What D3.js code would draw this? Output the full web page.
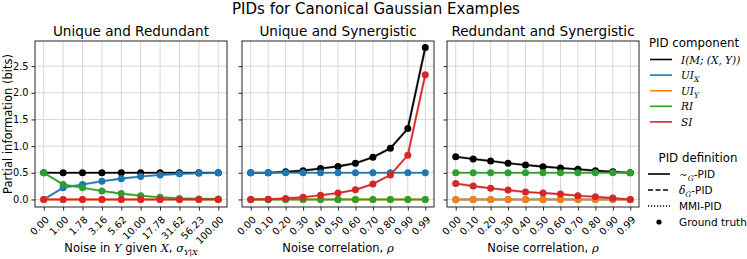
<!DOCTYPE html>
<html>
<head>
<meta charset="utf-8">
<script src="https://cdn.jsdelivr.net/npm/d3@7"></script>
<style>
    body { margin: 0; background: #fff; }
    text { font-family: "DejaVu Sans", sans-serif; fill: #000; }
    .math { font-family: "DejaVu Serif", serif; font-style: italic; }
</style>
</head>
<body>
<svg id="chart"></svg>
<script>
// Data
const noiseLabels = ["0.00", "1.00", "1.78", "3.16", "5.62", "10.00", "17.78", "31.62", "56.23", "100.00"];
const rhoLabels = ["0.00", "0.10", "0.20", "0.30", "0.40", "0.50", "0.60", "0.70", "0.80", "0.90", "0.99"];
const yTicks = [0.0, 0.5, 1.0, 1.5, 2.0, 2.5];

// Unique and Redundant
const urTotal = [0.50, 0.50, 0.50, 0.50, 0.50, 0.50, 0.50, 0.50, 0.50, 0.50];
const urUIX = [0.00, 0.22, 0.28, 0.34, 0.39, 0.43, 0.46, 0.48, 0.49, 0.50];
const urUIY = [0.00, 0.00, 0.00, 0.00, 0.00, 0.00, 0.00, 0.00, 0.00, 0.00];
const urRI = [0.50, 0.28, 0.22, 0.16, 0.11, 0.07, 0.04, 0.02, 0.01, 0.01];
const urSI = [0.00, 0.00, 0.00, 0.00, 0.00, 0.00, 0.00, 0.00, 0.00, 0.00];

// Unique and Synergistic
const usTotal = [0.50, 0.50, 0.52, 0.54, 0.58, 0.62, 0.68, 0.79, 0.96, 1.33, 2.85];
const usUIX = [0.50, 0.50, 0.50, 0.50, 0.50, 0.50, 0.50, 0.50, 0.50, 0.50, 0.50];
const usUIY = [0.00, 0.00, 0.00, 0.00, 0.00, 0.00, 0.00, 0.00, 0.00, 0.00, 0.00];
const usRI = [0.00, 0.00, 0.00, 0.00, 0.00, 0.00, 0.00, 0.00, 0.00, 0.00, 0.00];
const usSI = [0.00, 0.005, 0.02, 0.04, 0.08, 0.12, 0.18, 0.29, 0.46, 0.83, 2.34];

// Redundant and Synergistic
const rsTotal = [0.80, 0.76, 0.72, 0.68, 0.645, 0.615, 0.59, 0.565, 0.54, 0.52, 0.50];
const rsUIX = [0.00, 0.00, 0.00, 0.00, 0.00, 0.00, 0.00, 0.00, 0.00, 0.00, 0.00];
const rsUIY = [0.00, 0.00, 0.00, 0.00, 0.00, 0.00, 0.00, 0.00, 0.00, 0.00, 0.00];
const rsRI = [0.50, 0.50, 0.50, 0.50, 0.50, 0.50, 0.50, 0.50, 0.50, 0.50, 0.50];
const rsSI = [0.30, 0.25, 0.21, 0.175, 0.14, 0.12, 0.10, 0.07, 0.05, 0.025, 0.00];

const componentColors = ["#000000", "#1f77b4", "#ff7f0e", "#2ca02c", "#d62728"];

const panels = [
    { title: "Unique and Redundant", labels: noiseLabels, series: [urTotal, urUIX, urUIY, urRI, urSI], xlabel: "noise" },
    { title: "Unique and Synergistic", labels: rhoLabels, series: [usTotal, usUIX, usUIY, usRI, usSI], xlabel: "rho" },
    { title: "Redundant and Synergistic", labels: rhoLabels, series: [rsTotal, rsUIX, rsUIY, rsRI, rsSI], xlabel: "rho" },
];

// Graph constants
const width = 747;
const height = 259;
const panelLeft = [35, 242, 447];
const panelWidth = 192;
const plotTop = 41;
const plotBottom = 207;

const svg = d3.select("#chart")
    .attr("width", width)
    .attr("height", height);

const yScale = d3.scaleLinear()
    .domain([-0.1415, 2.9715])
    .range([plotBottom, plotTop]);

// Figure title
svg.append("text")
    .attr("x", 376)
    .attr("y", 14)
    .attr("text-anchor", "middle")
    .style("font-size", "15px")
    .text("PIDs for Canonical Gaussian Examples");

// Y label
svg.append("text")
    .attr("transform", `translate(12,${(plotTop + plotBottom) / 2}) rotate(-90)`)
    .attr("text-anchor", "middle")
    .style("font-size", "11.5px")
    .text("Partial information (bits)");

panels.forEach((p, k) => {
    const x0 = panelLeft[k];
    const n = p.labels.length;
    const xScale = d3.scalePoint()
        .domain(p.labels)
        .range([x0, x0 + panelWidth])
        .padding(0.05 * (n - 1));

    const g = svg.append("g");

    // Grid
    g.selectAll(".vgrid")
        .data(p.labels)
        .join("line")
        .attr("x1", d => xScale(d)).attr("x2", d => xScale(d))
        .attr("y1", plotTop).attr("y2", plotBottom)
        .attr("stroke", "#d6d6d6").attr("stroke-width", 1);
    g.selectAll(".hgrid")
        .data(yTicks)
        .join("line")
        .attr("x1", x0).attr("x2", x0 + panelWidth)
        .attr("y1", d => yScale(d)).attr("y2", d => yScale(d))
        .attr("stroke", "#d6d6d6").attr("stroke-width", 1);

    // Axes
    const xAxis = d3.axisBottom(xScale).tickSize(3.5).tickSizeOuter(0);
    const yAxis = d3.axisLeft(yScale).tickValues(yTicks).tickSize(3.5).tickSizeOuter(0)
        .tickFormat(k === 0 ? d3.format(".1f") : () => "");
    const xg = g.append("g")
        .attr("transform", `translate(0,${plotBottom})`)
        .call(xAxis);
    xg.select(".domain").remove();
    xg.selectAll("text")
        .attr("y", 0)
        .attr("x", 0)
        .attr("dy", "0.35em")
        .attr("transform", d => `translate(3,11) rotate(-45)`)
        .style("text-anchor", "end")
        .style("font-size", "9.8px")
        .style("font-family", "DejaVu Sans, sans-serif");
    const yg = g.append("g")
        .attr("transform", `translate(${x0},0)`)
        .call(yAxis);
    yg.select(".domain").remove();
    yg.selectAll("text")
        .style("font-size", "9.8px")
        .style("font-family", "DejaVu Sans, sans-serif");
    g.selectAll(".tick line").attr("stroke", "#222");

    // Lines and markers
    const line = d3.line()
        .x((d, i) => xScale(p.labels[i]))
        .y(d => yScale(d));
    p.series.forEach((values, c) => {
        const color = componentColors[c];
        g.append("path")
            .datum(values)
            .attr("d", line)
            .attr("fill", "none")
            .attr("stroke", color)
            .attr("stroke-width", 1.6);
        g.append("path")
            .datum(values)
            .attr("d", line)
            .attr("fill", "none")
            .attr("stroke", color)
            .attr("stroke-opacity", 0.35)
            .attr("stroke-width", 2.6);
        g.append("g")
            .selectAll("circle")
            .data(values)
            .join("circle")
            .attr("cx", (d, i) => xScale(p.labels[i]))
            .attr("cy", d => yScale(d))
            .attr("r", 3.5)
            .attr("fill", color);
    });

    // Frame
    g.append("rect")
        .attr("x", x0).attr("y", plotTop)
        .attr("width", panelWidth).attr("height", plotBottom - plotTop)
        .attr("fill", "none")
        .attr("stroke", "#222")
        .attr("stroke-width", 1);

    // Titles
    g.append("text")
        .attr("x", x0 + panelWidth / 2)
        .attr("y", 36)
        .attr("text-anchor", "middle")
        .style("font-size", "13.6px")
        .text(p.title);

    const xl = g.append("text")
        .attr("x", x0 + panelWidth / 2)
        .attr("y", 252)
        .attr("text-anchor", "middle")
        .style("font-size", "11.5px");
    if (p.xlabel === "noise") {
        xl.append("tspan").text("Noise in ");
        xl.append("tspan").attr("class", "math").text("Y");
        xl.append("tspan").text(" given ");
        xl.append("tspan").attr("class", "math").text("X");
        xl.append("tspan").text(", ");
        xl.append("tspan").attr("class", "math").text("σ");
        xl.append("tspan").attr("class", "math").attr("dy", 3).style("font-size", "8px").text("Y|X");
    } else {
        xl.append("tspan").text("Noise correlation, ");
        xl.append("tspan").attr("class", "math").text("ρ");
    }
});

// Legend: PID component
const lx = 650;
svg.append("text")
    .attr("x", 694).attr("y", 47)
    .attr("text-anchor", "middle")
    .style("font-size", "11.8px")
    .text("PID component");

const compLabels = [
    [["I(M; (X, Y))", 0]],
    [["UI", 0], ["X", 1]],
    [["UI", 0], ["Y", 1]],
    [["RI", 0]],
    [["SI", 0]],
];
compLabels.forEach((parts, i) => {
    const y = 59.5 + i * 15.6;
    svg.append("line")
        .attr("x1", lx).attr("x2", lx + 22)
        .attr("y1", y).attr("y2", y)
        .attr("stroke", componentColors[i])
        .attr("stroke-width", 1.6);
    const t = svg.append("text")
        .attr("x", lx + 31).attr("y", y + 4)
        .attr("class", "math")
        .style("font-size", "10.5px");
    parts.forEach(([s, sub]) => {
        const ts = t.append("tspan").text(s);
        if (sub) ts.attr("dy", 3).style("font-size", "7.5px");
    });
});

// Legend: PID definition
svg.append("text")
    .attr("x", 698).attr("y", 162)
    .attr("text-anchor", "middle")
    .style("font-size", "11.8px")
    .text("PID definition");

const defDash = [null, "5,2.5", "1.2,1.8", "dot"];
const defLabels = ["G-PID", "G-PID", "MMI-PID", "Ground truth"];
defDash.forEach((dash, i) => {
    const y = 174 + i * 16;
    if (dash === "dot") {
        svg.append("circle")
            .attr("cx", 659).attr("cy", y)
            .attr("r", 2.6)
            .attr("fill", "#000");
    } else {
        svg.append("line")
            .attr("x1", 648).attr("x2", 670)
            .attr("y1", y).attr("y2", y)
            .attr("stroke", "#000")
            .attr("stroke-width", 1.6)
            .attr("stroke-dasharray", dash);
    }
    const t = svg.append("text")
        .attr("x", 679).attr("y", y + 4)
        .style("font-size", "10.5px");
    if (i === 0) {
        t.append("tspan").attr("class", "math").text("∼");
        t.append("tspan").attr("class", "math").attr("dy", 2.5).style("font-size", "7.5px").text("G");
        t.append("tspan").attr("dy", -2.5).text("-PID");
    } else if (i === 1) {
        t.append("tspan").attr("class", "math").text("δ");
        t.append("tspan").attr("class", "math").attr("dy", 2.5).style("font-size", "7.5px").text("G");
        t.append("tspan").attr("dy", -2.5).text("-PID");
    } else {
        t.text(defLabels[i]);
    }
});
</script>
</body>
</html>
